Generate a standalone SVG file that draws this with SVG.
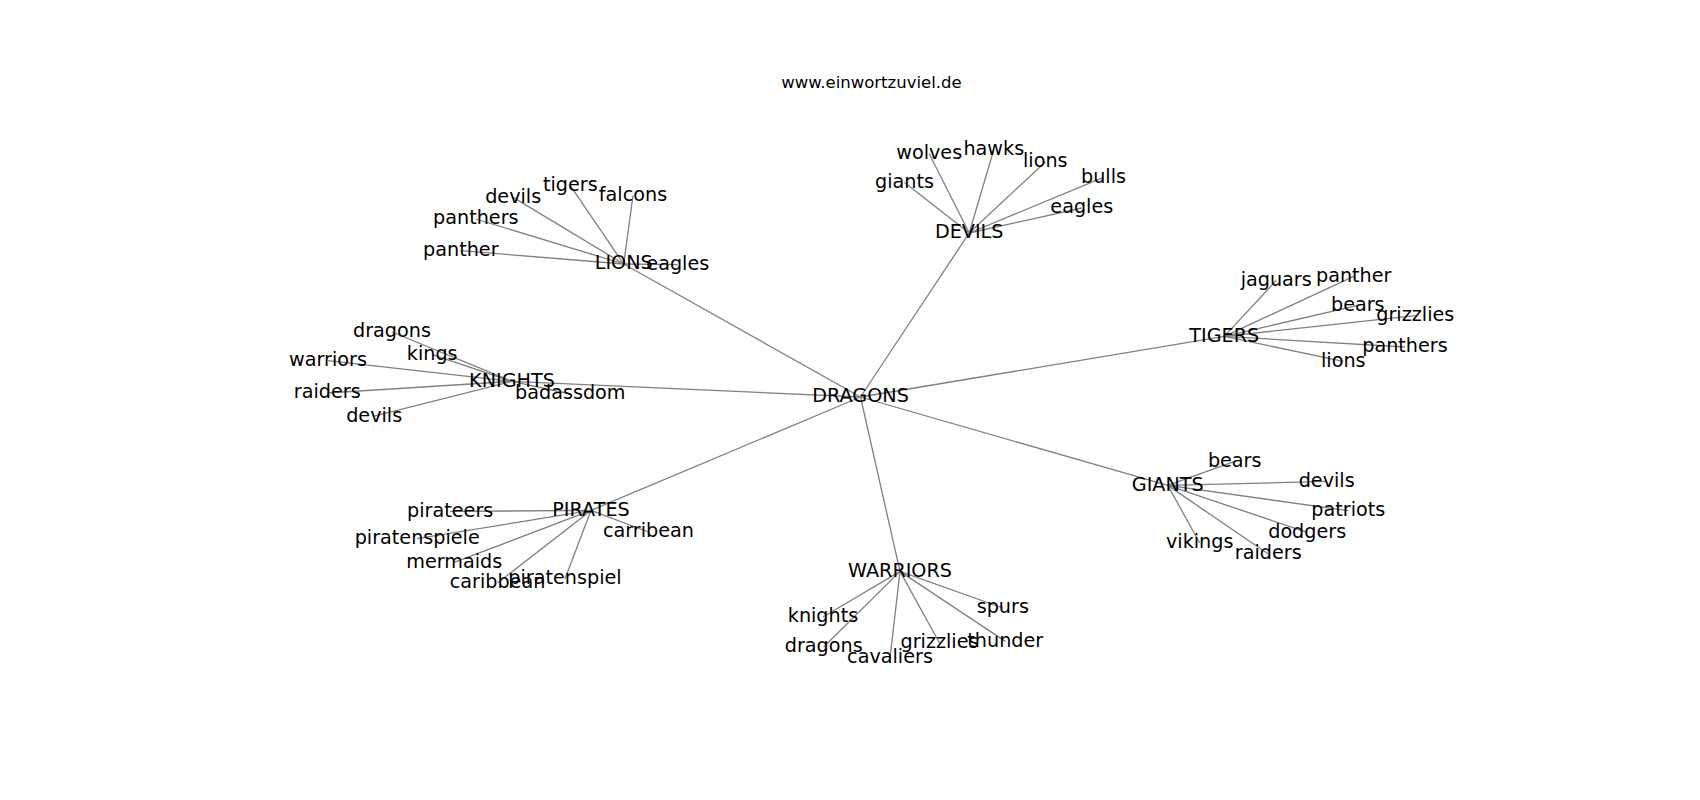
<svg xmlns="http://www.w3.org/2000/svg" width="1700" height="800" viewBox="0 0 1700 800">
<style>
.bg{fill:#ffffff}
.e{stroke:#808080;stroke-width:1.3;fill:none}
text{font-family:"DejaVu Sans","Liberation Sans",sans-serif;fill:#000000;text-anchor:middle}
.n{font-size:19.2px}
.t{font-size:16.5px}
</style>
<rect class="bg" x="0" y="0" width="1700" height="800"/>
<text class="t" x="871.5" y="88">www.einwortzuviel.de</text>
<g id="connectors">
<line class="e" x1="860.5" y1="397" x2="623.7" y2="264"/>
<line class="e" x1="860.5" y1="397" x2="969.2" y2="233"/>
<line class="e" x1="860.5" y1="397" x2="1224.3" y2="336.4"/>
<line class="e" x1="860.5" y1="397" x2="512" y2="381.4"/>
<line class="e" x1="860.5" y1="397" x2="591" y2="510.4"/>
<line class="e" x1="860.5" y1="397" x2="900" y2="571.4"/>
<line class="e" x1="860.5" y1="397" x2="1167.8" y2="485.4"/>
<line class="e" x1="623.7" y1="264" x2="677.8" y2="264.7"/>
<line class="e" x1="623.7" y1="264" x2="460.8" y2="250.7"/>
<line class="e" x1="623.7" y1="264" x2="475.8" y2="219"/>
<line class="e" x1="623.7" y1="264" x2="513.2" y2="197.4"/>
<line class="e" x1="623.7" y1="264" x2="570.3" y2="185.7"/>
<line class="e" x1="623.7" y1="264" x2="633" y2="195.7"/>
<line class="e" x1="969.2" y1="233" x2="904.5" y2="182.4"/>
<line class="e" x1="969.2" y1="233" x2="929.2" y2="153.7"/>
<line class="e" x1="969.2" y1="233" x2="993.8" y2="149.7"/>
<line class="e" x1="969.2" y1="233" x2="1045.3" y2="162"/>
<line class="e" x1="969.2" y1="233" x2="1103.5" y2="177.4"/>
<line class="e" x1="969.2" y1="233" x2="1081.8" y2="208"/>
<line class="e" x1="1224.3" y1="336.4" x2="1276.2" y2="280.4"/>
<line class="e" x1="1224.3" y1="336.4" x2="1353.7" y2="276.4"/>
<line class="e" x1="1224.3" y1="336.4" x2="1357.8" y2="305.4"/>
<line class="e" x1="1224.3" y1="336.4" x2="1415.3" y2="315.7"/>
<line class="e" x1="1224.3" y1="336.4" x2="1405" y2="347"/>
<line class="e" x1="1224.3" y1="336.4" x2="1343.3" y2="361.4"/>
<line class="e" x1="512" y1="381.4" x2="392" y2="332"/>
<line class="e" x1="512" y1="381.4" x2="432.2" y2="354.7"/>
<line class="e" x1="512" y1="381.4" x2="328" y2="360.7"/>
<line class="e" x1="512" y1="381.4" x2="327.3" y2="393"/>
<line class="e" x1="512" y1="381.4" x2="374.2" y2="416.2"/>
<line class="e" x1="512" y1="381.4" x2="570.3" y2="394"/>
<line class="e" x1="591" y1="510.4" x2="450.2" y2="511.4"/>
<line class="e" x1="591" y1="510.4" x2="417.2" y2="538.7"/>
<line class="e" x1="591" y1="510.4" x2="454.2" y2="562.4"/>
<line class="e" x1="591" y1="510.4" x2="497.5" y2="583"/>
<line class="e" x1="591" y1="510.4" x2="565" y2="578.7"/>
<line class="e" x1="591" y1="510.4" x2="648.5" y2="532"/>
<line class="e" x1="900" y1="571.4" x2="823" y2="617"/>
<line class="e" x1="900" y1="571.4" x2="823.7" y2="647"/>
<line class="e" x1="900" y1="571.4" x2="890" y2="658"/>
<line class="e" x1="900" y1="571.4" x2="939.5" y2="643"/>
<line class="e" x1="900" y1="571.4" x2="1005.3" y2="641.4"/>
<line class="e" x1="900" y1="571.4" x2="1002.8" y2="608"/>
<line class="e" x1="1167.8" y1="485.4" x2="1234.7" y2="461.4"/>
<line class="e" x1="1167.8" y1="485.4" x2="1326.7" y2="481.4"/>
<line class="e" x1="1167.8" y1="485.4" x2="1348.3" y2="510.7"/>
<line class="e" x1="1167.8" y1="485.4" x2="1307.2" y2="532.4"/>
<line class="e" x1="1167.8" y1="485.4" x2="1199.7" y2="543"/>
<line class="e" x1="1167.8" y1="485.4" x2="1268.3" y2="554"/>
</g>
<g id="n-DRAGONS"><text class="n" x="860.5" y="402.3">DRAGONS</text></g>
<g id="n-LIONS"><text class="n" x="623.7" y="269.3">LIONS</text></g>
<g id="n-LIONS-eagles"><text class="n" x="677.8" y="270">eagles</text></g>
<g id="n-LIONS-panther"><text class="n" x="460.8" y="256">panther</text></g>
<g id="n-LIONS-panthers"><text class="n" x="475.8" y="224.3">panthers</text></g>
<g id="n-LIONS-devils"><text class="n" x="513.2" y="202.7">devils</text></g>
<g id="n-LIONS-tigers"><text class="n" x="570.3" y="191">tigers</text></g>
<g id="n-LIONS-falcons"><text class="n" x="633" y="201">falcons</text></g>
<g id="n-DEVILS"><text class="n" x="969.2" y="238.3">DEVILS</text></g>
<g id="n-DEVILS-giants"><text class="n" x="904.5" y="187.7">giants</text></g>
<g id="n-DEVILS-wolves"><text class="n" x="929.2" y="159">wolves</text></g>
<g id="n-DEVILS-hawks"><text class="n" x="993.8" y="155">hawks</text></g>
<g id="n-DEVILS-lions"><text class="n" x="1045.3" y="167.3">lions</text></g>
<g id="n-DEVILS-bulls"><text class="n" x="1103.5" y="182.7">bulls</text></g>
<g id="n-DEVILS-eagles"><text class="n" x="1081.8" y="213.3">eagles</text></g>
<g id="n-TIGERS"><text class="n" x="1224.3" y="341.7">TIGERS</text></g>
<g id="n-TIGERS-jaguars"><text class="n" x="1276.2" y="285.7">jaguars</text></g>
<g id="n-TIGERS-panther"><text class="n" x="1353.7" y="281.7">panther</text></g>
<g id="n-TIGERS-bears"><text class="n" x="1357.8" y="310.7">bears</text></g>
<g id="n-TIGERS-grizzlies"><text class="n" x="1415.3" y="321">grizzlies</text></g>
<g id="n-TIGERS-panthers"><text class="n" x="1405" y="352.3">panthers</text></g>
<g id="n-TIGERS-lions"><text class="n" x="1343.3" y="366.7">lions</text></g>
<g id="n-KNIGHTS"><text class="n" x="512" y="386.7">KNIGHTS</text></g>
<g id="n-KNIGHTS-dragons"><text class="n" x="392" y="337.3">dragons</text></g>
<g id="n-KNIGHTS-kings"><text class="n" x="432.2" y="360">kings</text></g>
<g id="n-KNIGHTS-warriors"><text class="n" x="328" y="366">warriors</text></g>
<g id="n-KNIGHTS-raiders"><text class="n" x="327.3" y="398.3">raiders</text></g>
<g id="n-KNIGHTS-devils"><text class="n" x="374.2" y="421.5">devils</text></g>
<g id="n-KNIGHTS-badassdom"><text class="n" x="570.3" y="399.3">badassdom</text></g>
<g id="n-PIRATES"><text class="n" x="591" y="515.7">PIRATES</text></g>
<g id="n-PIRATES-pirateers"><text class="n" x="450.2" y="516.7">pirateers</text></g>
<g id="n-PIRATES-piratenspiele"><text class="n" x="417.2" y="544">piratenspiele</text></g>
<g id="n-PIRATES-mermaids"><text class="n" x="454.2" y="567.7">mermaids</text></g>
<g id="n-PIRATES-caribbean"><text class="n" x="497.5" y="588.3">caribbean</text></g>
<g id="n-PIRATES-piratenspiel"><text class="n" x="565" y="584">piratenspiel</text></g>
<g id="n-PIRATES-carribean"><text class="n" x="648.5" y="537.3">carribean</text></g>
<g id="n-WARRIORS"><text class="n" x="900" y="576.7">WARRIORS</text></g>
<g id="n-WARRIORS-knights"><text class="n" x="823" y="622.3">knights</text></g>
<g id="n-WARRIORS-dragons"><text class="n" x="823.7" y="652.3">dragons</text></g>
<g id="n-WARRIORS-cavaliers"><text class="n" x="890" y="663.3">cavaliers</text></g>
<g id="n-WARRIORS-grizzlies"><text class="n" x="939.5" y="648.3">grizzlies</text></g>
<g id="n-WARRIORS-thunder"><text class="n" x="1005.3" y="646.7">thunder</text></g>
<g id="n-WARRIORS-spurs"><text class="n" x="1002.8" y="613.3">spurs</text></g>
<g id="n-GIANTS"><text class="n" x="1167.8" y="490.7">GIANTS</text></g>
<g id="n-GIANTS-bears"><text class="n" x="1234.7" y="466.7">bears</text></g>
<g id="n-GIANTS-devils"><text class="n" x="1326.7" y="486.7">devils</text></g>
<g id="n-GIANTS-patriots"><text class="n" x="1348.3" y="516">patriots</text></g>
<g id="n-GIANTS-dodgers"><text class="n" x="1307.2" y="537.7">dodgers</text></g>
<g id="n-GIANTS-vikings"><text class="n" x="1199.7" y="548.3">vikings</text></g>
<g id="n-GIANTS-raiders"><text class="n" x="1268.3" y="559.3">raiders</text></g>
</svg>
